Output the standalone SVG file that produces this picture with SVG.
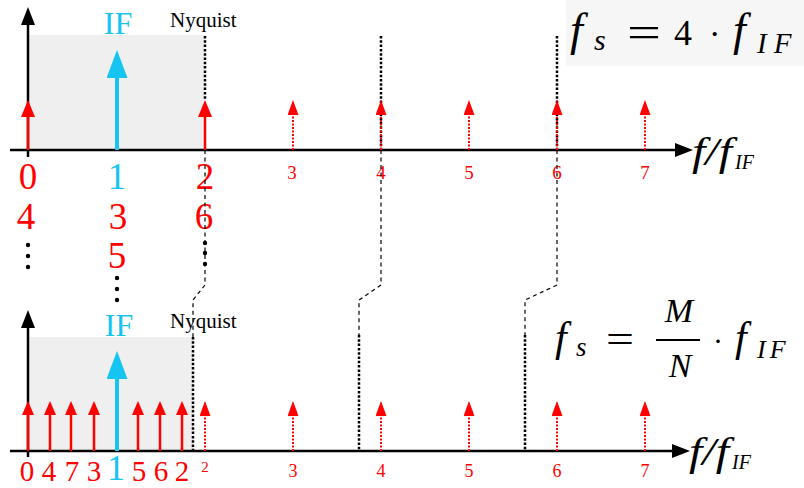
<svg xmlns="http://www.w3.org/2000/svg" width="804" height="488" viewBox="0 0 804 488">
<style>
text{font-family:"Liberation Serif","Times New Roman",serif}
.it{font-style:italic}
.red{fill:#ff0000}
.cy{fill:#16c4f2}
.axis{stroke:#000;stroke-width:2.5;fill:none}
.rs{stroke:#ff0000;stroke-width:2.5;fill:none}
.rd{stroke:#ff0000;stroke-width:2;stroke-dasharray:2 1.5;fill:none}
.cs{stroke:#16c4f2;stroke-width:4;fill:none}
.thick{stroke:#000;stroke-width:2.5;stroke-dasharray:2.5 1.8;fill:none}
.thin{stroke:#000;stroke-width:1.2;stroke-dasharray:4 3.5;fill:none}
.band{fill:#efefef}
</style>
<defs>
<marker id="ax" markerUnits="userSpaceOnUse" markerWidth="20" markerHeight="16" refX="0" refY="7" orient="auto"><path d="M0,0 L18,7 L0,14 z" fill="#000"/></marker>
<marker id="rb" markerUnits="userSpaceOnUse" markerWidth="18" markerHeight="16" refX="0" refY="7" orient="auto"><path d="M0,0 L17,7 L0,14 z" fill="#ff0000"/></marker>
<marker id="rm" markerUnits="userSpaceOnUse" markerWidth="16" markerHeight="14" refX="0" refY="6" orient="auto"><path d="M0,0 L14,6 L0,12 z" fill="#ff0000"/></marker>
<marker id="rsd" markerUnits="userSpaceOnUse" markerWidth="16" markerHeight="12" refX="0" refY="5.5" orient="auto"><path d="M0,0 L15,5.5 L0,11 z" fill="#ff0000"/></marker>
<marker id="cb" markerUnits="userSpaceOnUse" markerWidth="30" markerHeight="24" refX="0" refY="10.5" orient="auto"><path d="M0,0 L28,10.5 L0,21 z" fill="#16c4f2"/></marker>
</defs>

<g id="top-panel">
  <rect x="566" y="0" width="238" height="66" fill="#f6f6f6"/>
  <rect class="band" x="28" y="35" width="177" height="115"/>
  <g id="top-nyquist-lines">
    <line class="thick" x1="205" y1="36" x2="205" y2="100"/>
    <line class="thick" x1="381" y1="36" x2="381" y2="150"/>
    <line class="thick" x1="557" y1="36" x2="557" y2="150"/>
  </g>
  <g id="top-axes">
    <line class="axis" x1="10" y1="150" x2="675" y2="150" marker-end="url(#ax)"/>
    <line class="axis" x1="28" y1="157" x2="28" y2="25" marker-end="url(#ax)"/>
  </g>
  <g id="top-spectrum">
    <line class="rs" x1="28" y1="150" x2="28" y2="117" marker-end="url(#rb)"/>
    <line class="rs" x1="205" y1="150" x2="205" y2="117" marker-end="url(#rb)"/>
    <line class="cs" x1="117" y1="150" x2="117" y2="78" marker-end="url(#cb)"/>
    <line class="rd" x1="293" y1="150" x2="293" y2="115" marker-end="url(#rsd)"/>
    <line class="rd" x1="381" y1="150" x2="381" y2="115" marker-end="url(#rsd)"/>
    <line class="rd" x1="469" y1="150" x2="469" y2="115" marker-end="url(#rsd)"/>
    <line class="rd" x1="557" y1="150" x2="557" y2="115" marker-end="url(#rsd)"/>
    <line class="rd" x1="645" y1="150" x2="645" y2="115" marker-end="url(#rsd)"/>
  </g>
  <text class="cy" x="118" y="34" font-size="32" text-anchor="middle">IF</text>
  <text x="170" y="27" font-size="21">Nyquist</text>
  <g id="top-labels" text-anchor="middle">
    <text class="red" x="28" y="189" font-size="37">0</text>
    <text class="cy" x="117" y="189" font-size="37">1</text>
    <text class="red" x="205" y="189" font-size="37">2</text>
    <text class="red" x="26" y="229" font-size="37">4</text>
    <text class="red" x="118" y="229" font-size="37">3</text>
    <text class="red" x="204" y="229" font-size="37">6</text>
    <text class="red" x="117" y="268" font-size="37">5</text>
    <text class="red" x="292" y="179" font-size="19">3</text>
    <text class="red" x="381" y="179" font-size="19">4</text>
    <text class="red" x="469" y="179" font-size="19">5</text>
    <text class="red" x="557" y="179" font-size="19">6</text>
    <text class="red" x="645" y="179" font-size="19">7</text>
  </g>
  <g id="top-dots" fill="#000">
    <circle cx="28" cy="245" r="2.2"/><circle cx="28" cy="256" r="2.2"/><circle cx="28" cy="267" r="2.2"/>
    <circle cx="117" cy="278" r="2.2"/><circle cx="117" cy="289" r="2.2"/><circle cx="117" cy="300" r="2.2"/>
    <circle cx="205" cy="243" r="2.2"/><circle cx="205" cy="253" r="2.2"/><circle cx="205" cy="264" r="2.2"/>
  </g>
  <g id="top-axis-label">
    <text class="it" x="692" y="165" font-size="40" textLength="40" lengthAdjust="spacingAndGlyphs">f/f</text>
    <text class="it" x="735" y="169" font-size="20">IF</text>
  </g>
  <g id="top-formula">
    <text class="it" x="570" y="45" font-size="46">f</text>
    <text class="it" x="594" y="50" font-size="30">s</text>
    <text x="627" y="47" font-size="44" textLength="34" lengthAdjust="spacingAndGlyphs">=</text>
    <text x="674" y="45" font-size="36">4</text>
    <text x="709" y="45" font-size="34">·</text>
    <text class="it" x="733" y="45" font-size="46">f</text>
    <text class="it" x="757" y="53" font-size="29" letter-spacing="7">IF</text>
  </g>
</g>

<g id="connectors">
  <path class="thin" d="M205,150 V285 L193,300 V337"/>
  <path class="thin" d="M381,150 V285 L359,300 V335"/>
  <path class="thin" d="M557,150 V285 L525,300 V335"/>
</g>

<g id="bottom-panel">
  <rect class="band" x="28" y="337" width="165" height="114"/>
  <g id="bottom-nyquist-lines">
    <line class="thick" x1="193" y1="337" x2="193" y2="451"/>
    <line class="thick" x1="359" y1="335" x2="359" y2="451"/>
    <line class="thick" x1="525" y1="335" x2="525" y2="451"/>
  </g>
  <g id="bottom-axes">
    <line class="axis" x1="10" y1="451" x2="672" y2="451" marker-end="url(#ax)"/>
    <line class="axis" x1="28" y1="457" x2="28" y2="328" marker-end="url(#ax)"/>
  </g>
  <g id="bottom-spectrum">
    <line class="rs" x1="28" y1="451" x2="28" y2="415" marker-end="url(#rm)"/>
    <line class="rs" x1="50" y1="451" x2="50" y2="415" marker-end="url(#rm)"/>
    <line class="rs" x1="71" y1="451" x2="71" y2="415" marker-end="url(#rm)"/>
    <line class="rs" x1="94" y1="451" x2="94" y2="415" marker-end="url(#rm)"/>
    <line class="rs" x1="138" y1="451" x2="138" y2="415" marker-end="url(#rm)"/>
    <line class="rs" x1="160" y1="451" x2="160" y2="415" marker-end="url(#rm)"/>
    <line class="rs" x1="182" y1="451" x2="182" y2="415" marker-end="url(#rm)"/>
    <line class="cs" x1="117" y1="451" x2="117" y2="379" marker-end="url(#cb)"/>
    <line class="rd" x1="205" y1="451" x2="205" y2="416" marker-end="url(#rsd)"/>
    <line class="rd" x1="293" y1="451" x2="293" y2="416" marker-end="url(#rsd)"/>
    <line class="rd" x1="381" y1="451" x2="381" y2="416" marker-end="url(#rsd)"/>
    <line class="rd" x1="469" y1="451" x2="469" y2="416" marker-end="url(#rsd)"/>
    <line class="rd" x1="557" y1="451" x2="557" y2="416" marker-end="url(#rsd)"/>
    <line class="rd" x1="645" y1="451" x2="645" y2="416" marker-end="url(#rsd)"/>
  </g>
  <text class="cy" x="119" y="336" font-size="32" text-anchor="middle">IF</text>
  <text x="170" y="328" font-size="21">Nyquist</text>
  <g id="bottom-labels" text-anchor="middle">
    <text class="red" x="27" y="481" font-size="29">0</text>
    <text class="red" x="49" y="481" font-size="29">4</text>
    <text class="red" x="72" y="481" font-size="29">7</text>
    <text class="red" x="94" y="481" font-size="29">3</text>
    <text class="cy" x="116" y="480" font-size="36">1</text>
    <text class="red" x="139" y="481" font-size="29">5</text>
    <text class="red" x="161" y="481" font-size="29">6</text>
    <text class="red" x="182" y="481" font-size="29">2</text>
    <text class="red" x="205" y="472" font-size="15">2</text>
    <text class="red" x="293" y="477" font-size="18">3</text>
    <text class="red" x="381" y="477" font-size="18">4</text>
    <text class="red" x="469" y="477" font-size="18">5</text>
    <text class="red" x="557" y="477" font-size="18">6</text>
    <text class="red" x="645" y="477" font-size="18">7</text>
  </g>
  <g id="bottom-axis-label">
    <text class="it" x="689" y="465" font-size="40" textLength="40" lengthAdjust="spacingAndGlyphs">f/f</text>
    <text class="it" x="732" y="469" font-size="20">IF</text>
  </g>
  <g id="bottom-formula">
    <text class="it" x="555" y="351" font-size="42">f</text>
    <text class="it" x="576" y="356" font-size="27">s</text>
    <text x="606" y="353" font-size="40" textLength="28" lengthAdjust="spacingAndGlyphs">=</text>
    <line x1="656" y1="340" x2="700" y2="340" stroke="#000" stroke-width="2"/>
    <text class="it" x="679" y="322" font-size="34" text-anchor="middle">M</text>
    <text class="it" x="680" y="377" font-size="34" text-anchor="middle">N</text>
    <text x="713" y="351" font-size="30">·</text>
    <text class="it" x="735" y="351" font-size="42">f</text>
    <text class="it" x="757" y="358" font-size="26" letter-spacing="4">IF</text>
  </g>
</g>
</svg>
